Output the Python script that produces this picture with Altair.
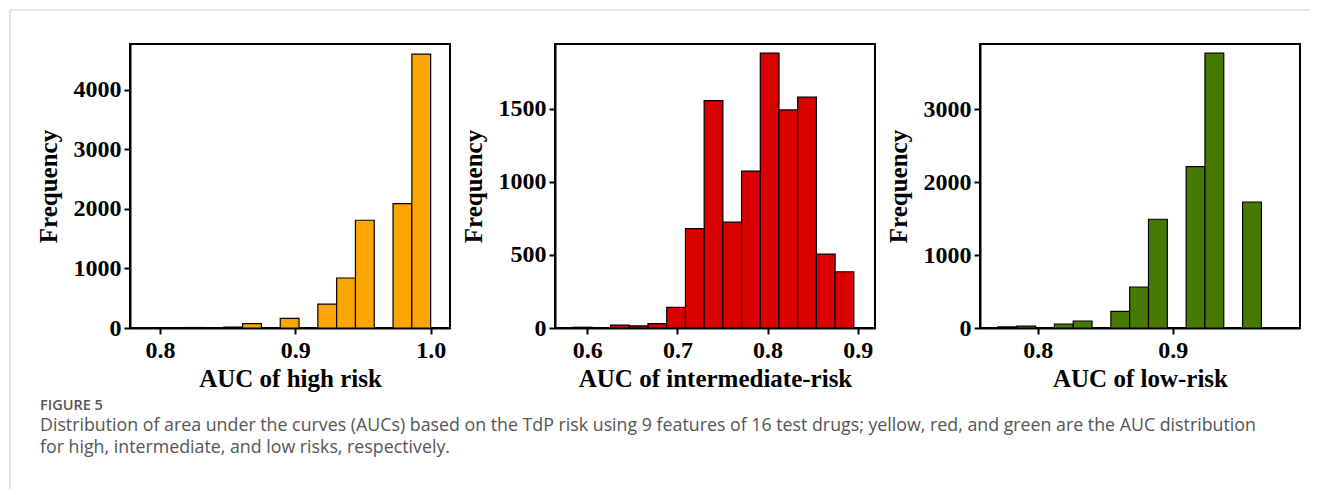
import altair as alt
import pandas as pd

# ---- data (histogram bin counts) ----
high_start = 0.75
high_width = 0.25 / 18
high_counts = [0, 0, 3, 0, 0, 8, 0, 15, 75, 0, 160, 0, 400, 840, 1810, 0, 2090, 4600]

mid_start = 0.5844
mid_width = 0.020753
mid_counts = [5, 2, 20, 15, 30, 141, 680, 1557, 725, 1074, 1881, 1493, 1580, 506, 385]

low_start = 0.7705
low_width = 0.01395
low_counts = [15, 25, 0, 55, 96, 0, 229, 562, 1490, 0, 2212, 3766, 0, 1727, 3]

colors = ["#FFA500", "#D90000", "#467A00"]
x_titles = ["AUC of high risk", "AUC of intermediate-risk", "AUC of low-risk"]
x_domains = [[0.7816, 1.0106], [0.5698, 0.9136], [0.7609, 0.9907]]
x_ticks = [[0.8, 0.9, 1.0], [0.6, 0.7, 0.8, 0.9], [0.8, 0.9]]
y_domains = [[0, 4770], [0, 1944], [0, 3892]]
y_ticks = [[0, 1000, 2000, 3000, 4000], [0, 500, 1000, 1500], [0, 1000, 2000, 3000]]

caption_label = "FIGURE 5"
caption_lines = [
    "Distribution of area under the curves (AUCs) based on the TdP risk using 9 features of 16 test drugs; yellow, red, and green are the AUC distribution",
    "for high, intermediate, and low risks, respectively.",
]

SERIF = "Liberation Serif"
CAP_FONT = "Open Sans"
CAP_COLOR = "#555555"


def panel(start, width, counts, color, xdom, xt, ydom, yt, xtitle):
    n = len(counts)
    df = pd.DataFrame({
        "lo": [start + i * width for i in range(n)],
        "hi": [start + (i + 1) * width for i in range(n)],
        "count": counts,
    })
    df = df[df["count"] > 0]
    return alt.Chart(df).mark_bar(
        color=color, stroke="black", strokeWidth=1.2, clip=True, orient="vertical"
    ).encode(
        x=alt.X("lo:Q",
                scale=alt.Scale(domain=xdom, nice=False, zero=False),
                axis=alt.Axis(values=xt, format=".1f", title=xtitle, labelFlush=False)),
        x2="hi:Q",
        y=alt.Y("count:Q",
                scale=alt.Scale(domain=ydom, nice=False),
                axis=alt.Axis(values=yt, title="Frequency", format="d")),
        y2=alt.datum(0),
    )


p1 = panel(high_start, high_width, high_counts, colors[0], x_domains[0], x_ticks[0], y_domains[0], y_ticks[0], x_titles[0])
p2 = panel(mid_start, mid_width, mid_counts, colors[1], x_domains[1], x_ticks[1], y_domains[1], y_ticks[1], x_titles[1])
p3 = panel(low_start, low_width, low_counts, colors[2], x_domains[2], x_ticks[2], y_domains[2], y_ticks[2], x_titles[2])

# light grey figure-box border (top and left edges), decoration only
one = pd.DataFrame({"k": [0]})
border_top = alt.Chart(one).mark_rule(color="#d0d0d0", strokeWidth=1.2).encode(
    x=alt.value(-120), x2=alt.value(1180), y=alt.value(-34)
)
border_left = alt.Chart(one).mark_rule(color="#d0d0d0", strokeWidth=1.2).encode(
    x=alt.value(-120), y=alt.value(-34), y2=alt.value(445)
)

# figure caption (text below the panels)
cap_label = alt.Chart(pd.DataFrame({"t": [caption_label]})).mark_text(
    font=CAP_FONT, fontSize=14.5, fontWeight=600, color=CAP_COLOR,
    align="left", baseline="alphabetic",
).encode(text="t:N", x=alt.value(-90), y=alt.value(366))
cap_line1 = alt.Chart(pd.DataFrame({"t": [caption_lines[0]]})).mark_text(
    font=CAP_FONT, fontSize=17.8, color=CAP_COLOR, align="left", baseline="alphabetic",
).encode(text="t:N", x=alt.value(-90), y=alt.value(387))
cap_line2 = alt.Chart(pd.DataFrame({"t": [caption_lines[1]]})).mark_text(
    font=CAP_FONT, fontSize=17.8, color=CAP_COLOR, align="left", baseline="alphabetic",
).encode(text="t:N", x=alt.value(-90), y=alt.value(409))

left_panel = alt.layer(border_top, border_left, cap_label, cap_line1, cap_line2, p1).properties(
    width=320, height=284
)
mid_panel = p2.properties(width=320, height=284)
right_panel = p3.properties(width=320, height=284)

chart = alt.hconcat(left_panel, mid_panel, right_panel, spacing=105, bounds="flush").properties(
    padding={"left": 0, "top": 0, "right": 0, "bottom": 0},
).configure_view(
    stroke="black", strokeWidth=2
).configure_axis(
    labelFont=SERIF, labelFontWeight="bold", labelFontSize=24, labelColor="black",
    titleFont=SERIF, titleFontWeight="bold", titleFontSize=25, titleColor="black",
    domainColor="black", domainWidth=2, tickColor="black", tickWidth=2, tickSize=6,
    grid=False, labelOverlap=False,
).configure_axisY(
    labelPadding=3, titlePadding=12,
).configure_axisX(
    labelPadding=4, titlePadding=4,
)

chart.save("out.html", embed_options={"renderer": "svg", "actions": False})
